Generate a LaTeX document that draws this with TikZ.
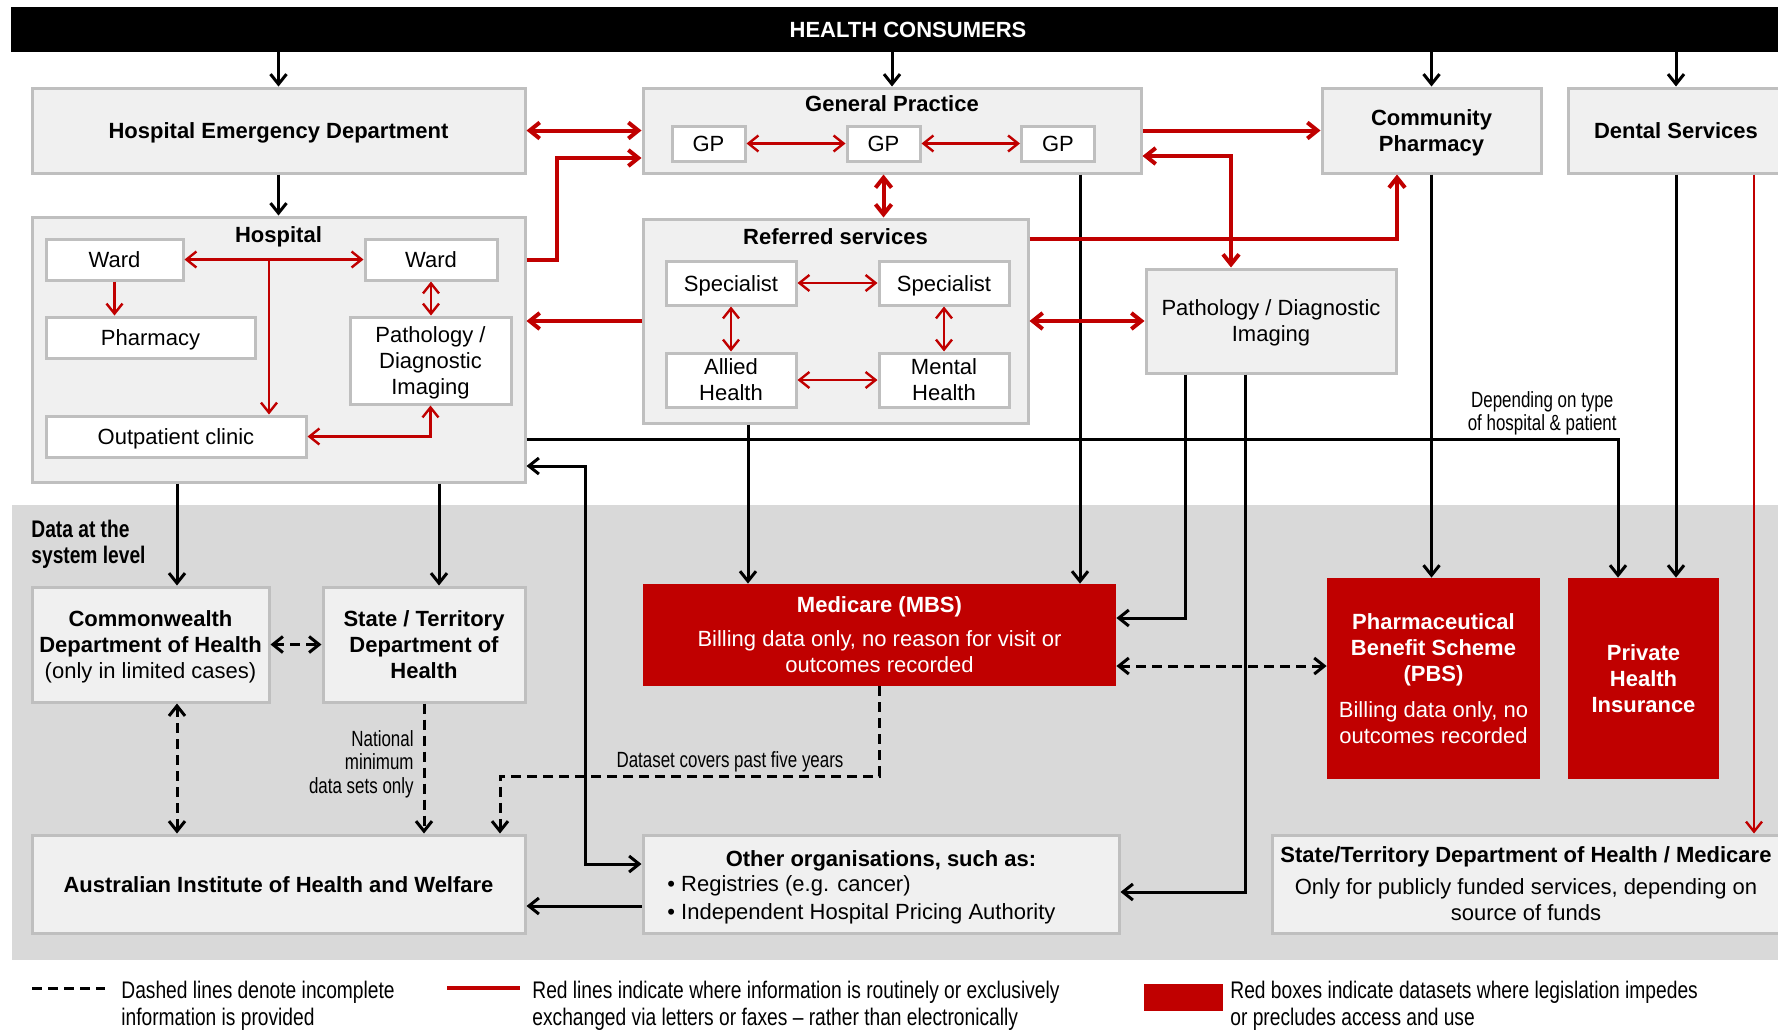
\documentclass[tikz,border=0pt]{standalone}
\usepackage{fontspec}
\setmainfont{Liberation Sans}
\newfontfamily\narrowfont[FakeStretch=0.77]{Liberation Sans}
\newfontfamily\legendfont[FakeStretch=0.8]{Liberation Sans}
\usetikzlibrary{arrows.meta}

\definecolor{panelgray}{HTML}{F0F0F0}
\definecolor{edgegray}{HTML}{BFBFBF}
\definecolor{sysgray}{HTML}{D9D9D9}
\definecolor{mbsred}{HTML}{C00000}
\newcommand{\basefont}{\fontsize{11}{13}\selectfont}
\newcommand{\linestrut}{\rule[-0.21em]{0pt}{1.17em}}

\begin{document}
\begin{tikzpicture}[
	x=0.5pt, y=-0.5pt,
	>={Straight Barb[length=5pt,width=8pt]},
	every node/.style={
		font=\basefont, inner sep=0pt,
		execute at begin node=\linestrut, execute at end node=\linestrut
	},
	ml/.style={text depth=-0.7pt},
	sz/.style 2 args={minimum width=#1*0.5pt, minimum height=#2*0.5pt},
	panel/.style={
		rectangle, draw=edgegray, fill=panelgray,
		line width=1.5pt, align=center
	},
	cell/.style={rectangle, draw=edgegray, fill=white, line width=1.5pt, align=center},
	redbox/.style={rectangle, fill=mbsred, text=white, align=center},
	bftext/.style={font=\basefont\bfseries},
	note/.style={font=\fontsize{11}{11.8}\selectfont\narrowfont},
	legend/.style={font=\fontsize{12}{13.5}\selectfont\legendfont, anchor=west, align=left, ml},
	line/.style={draw, line width=1.5pt, ->},
	dline/.style={line, dash pattern=on 5pt off 3pt},
	rline/.style={draw=mbsred, line width=2pt, ->},
	rthin/.style={draw=mbsred, line width=1.2pt, ->},
	]
	\useasboundingbox (0,0) rectangle (1778,1029);
	\fill[sysgray] (12,505) rectangle (1790,960);

	% consumers and first contact
	\node [fill=black, text=white, bftext, sz={1794}{45}] (hc) at (908,29.5) {HEALTH CONSUMERS};
	\node [panel, bftext, sz={493}{85}] (hed) at (278.5,130.5) {Hospital Emergency Department};
	\node [panel, sz={498}{85}] (gp) at (892,130.5) {};
	\node [bftext] (gpt) at (892,103) {General Practice};
	\node [cell, sz={73}{35}] (gp1) at (708.5,143.5) {GP};
	\node [cell, sz={73}{35}] (gp2) at (883.5,143.5) {GP};
	\node [cell, sz={73}{35}] (gp3) at (1058,143.5) {GP};
	\node [panel, bftext, ml, sz={219}{85}] (cp) at (1431.5,130.5) {Community\\Pharmacy};
	\node [panel, bftext, sz={216}{85}] (dent) at (1676,130.5) {Dental Services};

	% hospital
	\node [panel, sz={493}{265}] (hosp) at (278.5,349.5) {};
	\node [bftext] (hospt) at (278.5,234) {Hospital};
	\node [cell, sz={137}{41}] (ward1) at (114.5,259.5) {Ward};
	\node [cell, sz={132}{41}] (ward2) at (431,259.5) {Ward};
	\node [cell, sz={209}{41}] (pharm) at (150.5,337.5) {Pharmacy};
	\node [cell, ml, sz={161}{87}] (hpath) at (430.5,360.5) {Pathology /\\Diagnostic\\Imaging};
	\node [cell, sz={260}{41}] (opc) at (176,436.5) {Outpatient clinic};
	\coordinate (wj) at (269,259.5);

	% referred services
	\node [panel, sz={385}{204}] (ref) at (835.5,321) {};
	\node [bftext] (reft) at (835.5,236) {Referred services};
	\node [cell, sz={130}{44}] (spec1) at (731,283) {Specialist};
	\node [cell, sz={130}{44}] (spec2) at (944,283) {Specialist};
	\node [cell, ml, sz={130}{54}] (allied) at (731,380) {Allied\\Health};
	\node [cell, ml, sz={130}{54}] (mental) at (944,380) {Mental\\Health};
	\node [panel, ml, sz={250}{104}] (path) at (1271,321) {Pathology / Diagnostic\\Imaging};

	% system level
	\node [legend, font=\fontsize{12}{13}\selectfont\legendfont\bfseries] (sys) at (31,542) {Data at the\\system level};
	\node [panel, ml, sz={237}{115}] (cw) at (150.5,644.5) {\textbf{Commonwealth}\\\textbf{Department of Health}\\(only in limited cases)};
	\node [panel, bftext, ml, sz={202}{115}] (st) at (424,644.5) {State / Territory\\Department of\\Health};
	\node [redbox, ml, sz={473}{102}] (mbs) at (879.5,635) {\textbf{Medicare (MBS)}\\[4pt]Billing data only, no reason for visit or\\outcomes recorded};
	\node [redbox, ml, sz={213}{201}] (pbs) at (1433.5,678.5) {\textbf{Pharmaceutical}\\\textbf{Benefit Scheme}\\\textbf{(PBS)}\\[5pt]Billing data only, no\\outcomes recorded};
	\node [redbox, bftext, ml, sz={151}{201}] (phi) at (1643.5,678.5) {Private\\Health\\Insurance};
	\node [panel, bftext, sz={493}{98}] (aihw) at (278.5,884) {Australian Institute of Health and Welfare};
	\node [panel, sz={476}{98}] (oth) at (881,884) {};
	\node [bftext] (otht) at (881,858) {Other organisations, such as:};
	\node [anchor=west, align=left, ml] (othb) at (667,898) {\textbullet\ Registries (e.g. cancer)\\[1pt]\textbullet\ Independent Hospital Pricing Authority};
	\node [panel, ml, sz={508}{98}] (stm) at (1526,884) {\textbf{State/Territory Department of Health / Medicare}\\[3pt]Only for publicly funded services, depending on\\source of funds};

	% bends and columns
	\coordinate (hgx) at (557,158);
	\coordinate (rcx) at (1397,239);
	\coordinate (gpx) at (1231,156);
	\coordinate (dmx) at (1754,0);
	\coordinate (c1) at (177,0);
	\coordinate (c2) at (439,0);
	\coordinate (c3) at (748,0);
	\coordinate (c4) at (1080,0);
	\coordinate (hpx) at (1618,439);
	\coordinate (ohx) at (585,466);
	\coordinate (ohy) at (585,864);
	\coordinate (pmx) at (1185,618);
	\coordinate (pox) at (1245,892);
	\coordinate (mpy) at (0,666);
	\coordinate (aoy) at (0,906);
	\coordinate (mae) at (500,776);

	% black lines
	\foreach \n in {hed,gp,cp,dent}
		\path [line] (hc.south -| \n.north) -- (\n.north);
	\path [line] (hed.south) -- (hosp.north);
	\path [line] (c1 |- hosp.south) -- (c1 |- cw.north);
	\path [line] (c2 |- hosp.south) -- (c2 |- st.north);
	\path [line] (hosp.east |- hpx) -- (hpx) -- (hpx |- phi.north);
	\node [note, ml, anchor=east, align=center] (hpn) at (1617,411) {Depending on type\\of hospital \& patient};
	\path [line, <->] (hosp.east |- ohx) -- (ohx) -- (ohy) -- (ohy -| oth.west);
	\path [line] (c3 |- ref.south) -- (c3 |- mbs.north);
	\path [line] (c4 |- gp.south) -- (c4 |- mbs.north);
	\path [line] (pmx |- path.south) -- (pmx) -- (pmx -| mbs.east);
	\path [line] (pox |- path.south) -- (pox) -- (pox -| oth.east);
	\path [line] (cp.south) -- (cp.south |- pbs.north);
	\path [line] (dent.south) -- (dent.south |- phi.north);
	\path [line] (aoy -| oth.west) -- (aoy -| aihw.east);

	% dashed lines
	\path [dline, <->] (cw.east) -- (st.west);
	\path [dline, <->] (c1 |- cw.south) -- (c1 |- aihw.north);
	\path [dline] (st.south) -- (st.south |- aihw.north);
	\node [note, ml, anchor=east, align=right] (nmds) at (414,762) {National\\minimum\\data sets only};
	\path [dline] (mbs.south) -- (mbs.south |- mae) -- (mae) -- (mae |- aihw.north);
	\node [note] (dcov) at (730,759) {Dataset covers past five years};
	\path [dline, <->] (mpy -| mbs.east) -- (mpy -| pbs.west);

	% red lines
	\path [rline, <->] (hed.east) -- (gp.west);
	\path [rline] (hosp.east |- ward2) -| (hgx) -- (hgx -| gp.west);
	\path [rline, <->] (gp2 |- gp.south) -- (gp2 |- ref.north);
	\path [rline] (ref.west) -- (ref.west -| hosp.east);
	\path [rline] (rcx -| ref.east) -- (rcx) -- (rcx |- cp.south);
	\path [rline] (gp.east) -- (cp.west);
	\path [rline, <->] (gpx -| gp.east) -- (gpx) -- (gpx |- path.north);
	\path [rline, <->] (ref.east) -- (path.west);
	\path [rthin] (dmx |- dent.south) -- (dmx |- stm.north);
	\path [rthin, <->] (gp1) -- (gp2);
	\path [rthin, <->] (gp2) -- (gp3);
	\path [rthin, <->] (ward1) -- (ward2);
	\path [rthin] (wj) -- (wj |- opc.north);
	\path [rthin] (ward1.south) -- (ward1.south |- pharm.north);
	\path [rthin, <->] (ward2.south) -- (ward2.south |- hpath.north);
	\path [rthin, <->] (opc.east) -| (hpath.south);
	\path [rthin, <->] (spec1) -- (spec2);
	\path [rthin, <->] (spec1) -- (allied);
	\path [rthin, <->] (spec2) -- (mental);
	\path [rthin, <->] (allied) -- (mental);

	% legend
	\coordinate (l1a) at (32,988);
	\coordinate (l1b) at (105,988);
	\path [dline, -] (l1a) -- (l1b);
	\node [legend] (l1) at (121,1003) {Dashed lines denote incomplete\\information is provided};
	\coordinate (l2a) at (447,988);
	\coordinate (l2b) at (520,988);
	\path [rline, -] (l2a) -- (l2b);
	\node [legend] (l2) at (532,1003) {Red lines indicate where information is routinely or exclusively\\exchanged via letters or faxes \textendash{} rather than electronically};
	\node [fill=mbsred, font=\tiny, sz={79}{27}] (l3box) at (1183.5,997.5) {};
	\node [legend] (l3) at (1230,1003) {Red boxes indicate datasets where legislation impedes\\or precludes access and use};
\end{tikzpicture}
\end{document}
